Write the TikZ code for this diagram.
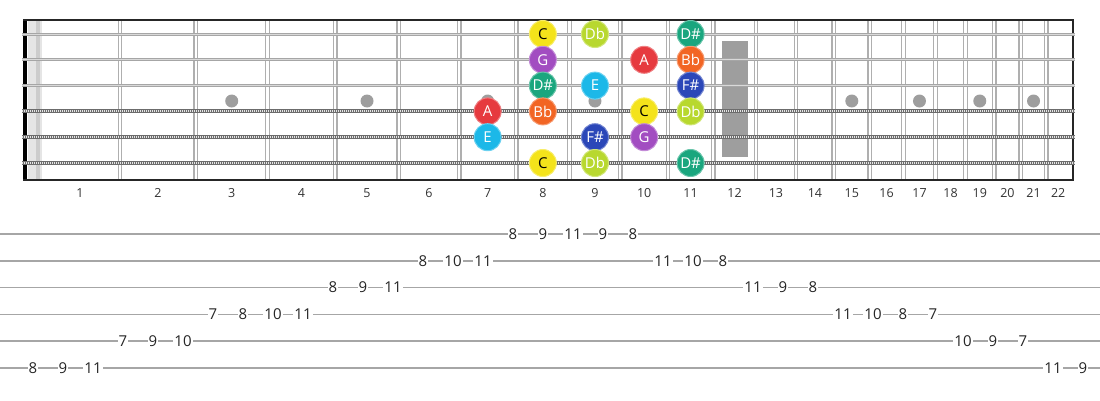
\documentclass[tikz,border=0pt]{standalone}
\usepackage{fontspec}
\setmainfont{Open Sans}
\usetikzlibrary{calc}
\definecolor{noteC}{HTML}{F4E31B}
\definecolor{noteDb}{HTML}{B8D82F}
\definecolor{noteDs}{HTML}{1AA67E}
\definecolor{noteG}{HTML}{A24DC1}
\definecolor{noteA}{HTML}{E63A3F}
\definecolor{noteBb}{HTML}{F26524}
\definecolor{noteE}{HTML}{1CB8E8}
\definecolor{noteFs}{HTML}{2B47B8}
\definecolor{inlay}{HTML}{9E9E9E}
\definecolor{fretgray}{HTML}{AFAFAF}
\tikzset{
  note/.style={circle, minimum size=27pt, inner sep=0pt, fill=#1, draw=#1!65!white,
    line width=1pt, text=white, font=\fontsize{15}{15}\selectfont},
  fretnum/.style={text=black!80, font=\fontsize{12.5}{12.5}\selectfont},
  tabnum/.style={fill=white, inner sep=1pt, text=black!85, font=\fontsize{15}{15}\selectfont},
}

\begin{document}
\begin{tikzpicture}[x=1pt, y=-1pt]
                \useasboundingbox (0,0) rectangle (1100,400);

                % Nut
                \fill[black] (23,19) rectangle (27,181);
                \fill[gray!20] (28,20) rectangle (42,180);
                \fill[gray!40] (36,20) rectangle (40,180);

                % Frets (double wires)
                \foreach \n in {1,...,21} {
                    \pgfmathsetmacro{\fx}{40+1432*(1-pow(2,-\n/12))}
                    \draw[fretgray, line width=1.3pt] (\fx-1.8,20) -- (\fx-1.8,180);
                    \draw[fretgray, line width=1.3pt] (\fx+1.8,20) -- (\fx+1.8,180);
                }

                % Inlays
                \foreach \n in {3,5,7,9,15,17,19,21} {
                    \pgfmathsetmacro{\mx}{40+716*(2-pow(2,-(\n-1)/12)-pow(2,-\n/12))}
                    \fill[inlay] (\mx,101) circle (6.5);
                }
                \fill[inlay] (722,41) rectangle (748,157);

                % Border
                \draw[black!85, line width=2pt] (23,20) -- (1073,20);
                \draw[black!85, line width=2pt] (23,180) -- (1073,180);
                \draw[black!85, line width=2pt] (1073,19) -- (1073,181);

                % Strings
                \foreach \s in {1,2,3} {
                    \draw[gray!70, line width=3pt] (22,34+25.8*\s-25.8) -- (1075,34+25.8*\s-25.8);
                    \draw[gray!30, line width=1pt] (22,34+25.8*\s-25.8) -- (1075,34+25.8*\s-25.8);
                }
                \foreach \s in {4,5,6} {
                    \draw[gray!85!black, line width=4pt] (22,34+25.8*\s-25.8) -- (1075,34+25.8*\s-25.8);
                    \draw[gray!20, line width=2pt, dash pattern=on 0.9pt off 1.1pt] (22,34+25.8*\s-25.8) -- (1075,34+25.8*\s-25.8);
                }

                % Fret numbers
                \foreach \n in {1,...,22} {
                    \pgfmathsetmacro{\mx}{40+716*(2-pow(2,-(\n-1)/12)-pow(2,-\n/12))}
                    \node[fretnum] (fn\n) at (\mx,193) {\n};
                }

                % Notes
                \foreach \s/\f/\lab/\col/\tc in {1/8/C/noteC/black, 1/9/Db/noteDb/white, 1/11/D\#/noteDs/white,
                    2/8/G/noteG/white, 2/10/A/noteA/white, 2/11/Bb/noteBb/white,
                    3/8/D\#/noteDs/white, 3/9/E/noteE/white, 3/11/F\#/noteFs/white,
                    4/7/A/noteA/white, 4/8/Bb/noteBb/white, 4/10/C/noteC/black, 4/11/Db/noteDb/white,
                    5/7/E/noteE/white, 5/9/F\#/noteFs/white, 5/10/G/noteG/white,
                    6/8/C/noteC/black, 6/9/Db/noteDb/white, 6/11/D\#/noteDs/white} {
                    \pgfmathsetmacro{\mx}{40+716*(2-pow(2,-(\f-1)/12)-pow(2,-\f/12))}
                    \node[note=\col, text=\tc] (n\s-\f) at (\mx,34+25.8*\s-25.8) {\lab};
                }

                % Tab staff
                \foreach \s in {1,...,6} {
                    \draw[gray!70, line width=1.6pt] (0,234+26.8*\s-26.8) -- (1100,234+26.8*\s-26.8);
                }

                % Tab numbers
                \foreach \i/\s/\f in {0/6/8, 1/6/9, 2/6/11, 3/5/7, 4/5/9, 5/5/10,
                    6/4/7, 7/4/8, 8/4/10, 9/4/11, 10/3/8, 11/3/9, 12/3/11,
                    13/2/8, 14/2/10, 15/2/11, 16/1/8, 17/1/9, 18/1/11, 19/1/9, 20/1/8,
                    21/2/11, 22/2/10, 23/2/8, 24/3/11, 25/3/9, 26/3/8,
                    27/4/11, 28/4/10, 29/4/8, 30/4/7, 31/5/10, 32/5/9, 33/5/7,
                    34/6/11, 35/6/9} {
                    \node[tabnum] (t\i) at (33+30*\i,234+26.8*\s-26.8) {\f};
                }
            \end{tikzpicture}
\end{document}
